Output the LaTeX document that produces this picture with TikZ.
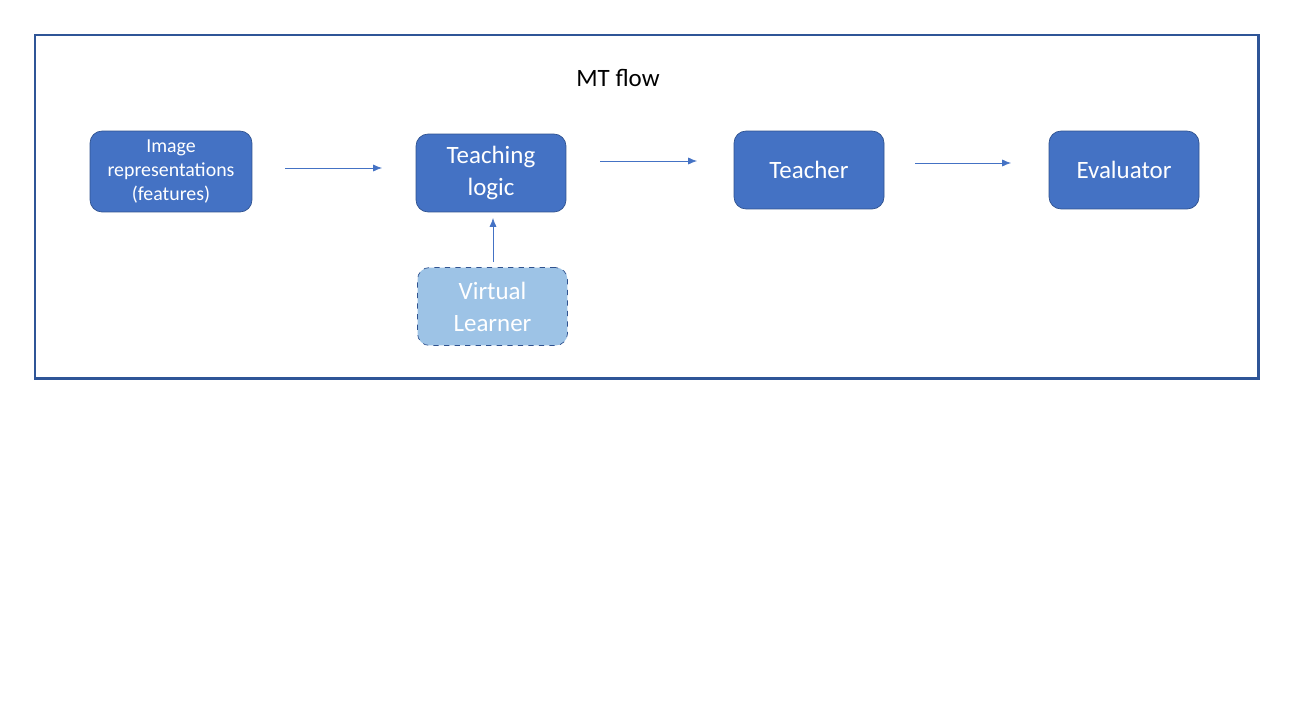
\documentclass[tikz,border=0pt]{standalone}
\usepackage{fontspec}
\setmainfont{Carlito}
\usetikzlibrary{arrows.meta}
\definecolor{mtblue}{HTML}{4472C4}
\definecolor{mtedge}{HTML}{2F528F}
\definecolor{mtframe}{HTML}{2F5597}
\definecolor{mtlight}{HTML}{9DC3E6}

\begin{document}
\begin{tikzpicture}[x=0.02cm, y=-0.02cm,
    >={Latex[length=5pt,width=4pt]},
    big/.style={font=\fontsize{14.2}{18.2}\selectfont},
    small/.style={font=\fontsize{11.3}{13.7}\selectfont},
    blk/.style={rectangle,draw=mtedge,thin,fill=mtblue,text=white,rounded corners=0.24cm,
                align=center,minimum width=3cm,minimum height=1.56cm,inner sep=2pt},
    virt/.style={blk,fill=mtlight,dashed},
    flow/.style={->,mtblue,thin}]

  \useasboundingbox (0,0) rectangle (1293,720);
  \draw[mtframe,line width=1.7pt] (35,35) rectangle (1258,378);

  \node[big] (title) at (618,78) {MT flow};

  \node[blk,small,minimum width=3.24cm,minimum height=1.62cm] (img) at (171,171.5)
       {Image\\representations\\(features)};
  \node[blk,big] (logic) at (491,173) {Teaching\\logic};
  \node[virt,big] (learner) at (492.5,306.5) {Virtual\\Learner};
  \node[blk,big] (teacher) at (809,170) {Teacher};
  \node[blk,big] (eval) at (1124,170) {Evaluator};

  % arrow ends stand free of the boxes
  \coordinate (a1) at (285,168);  \coordinate (b1) at (382,168);
  \coordinate (a2) at (600,161);  \coordinate (b2) at (697,161);
  \coordinate (a3) at (915,163);  \coordinate (b3) at (1011,163);
  \coordinate (a4) at (493,262);  \coordinate (b4) at (493,218);

  \draw[flow] (a1) -- (b1);
  \draw[flow] (a2) -- (b2);
  \draw[flow] (a3) -- (b3);
  \draw[flow] (a4) -- (b4);
\end{tikzpicture}
\end{document}
